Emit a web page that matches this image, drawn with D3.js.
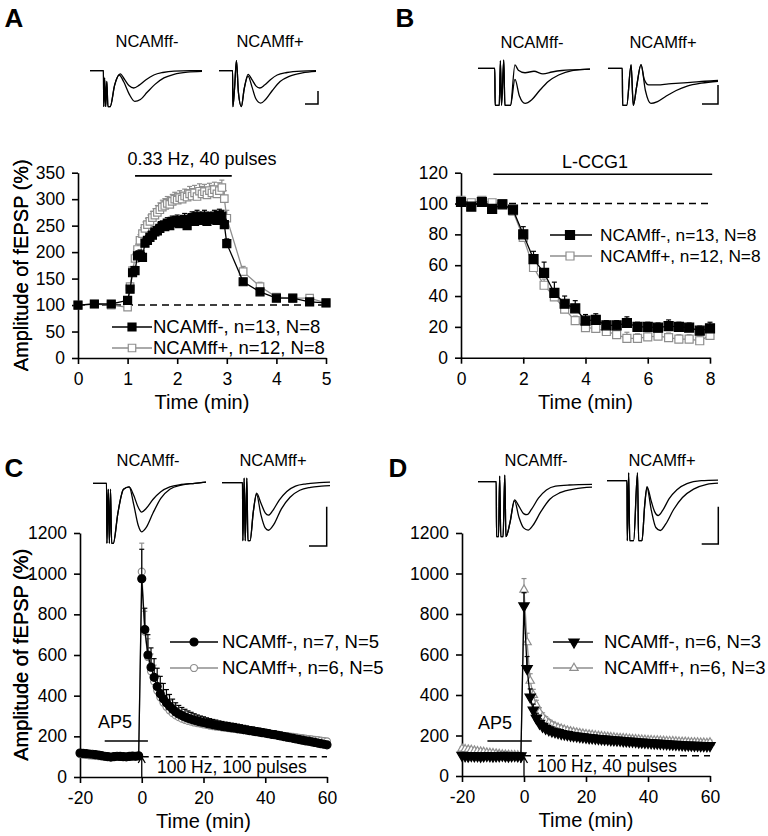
<!DOCTYPE html>
<html>
<head>
<meta charset="utf-8">
<script src="https://cdn.jsdelivr.net/npm/d3@7"></script>
<style>
  body { margin: 0; background: #fff; }
  svg text { font-family: "Liberation Sans", Arial, Helvetica, sans-serif; fill: #000; }
</style>
</head>
<body>
<svg id="fig" width="768" height="836"></svg>
<script>
// ---------- data ----------
// panel A : 0.33 Hz, 40 pulses
var aTime = [0,0.33,0.67,1.0,
  1.05,1.1,1.15,1.2,1.25,1.3,1.35,1.4,1.45,1.5,1.55,1.6,1.65,1.7,1.75,1.8,1.85,1.9,1.95,2.0,
  2.05,2.1,2.15,2.2,2.25,2.3,2.35,2.4,2.45,2.5,2.55,2.6,2.65,2.7,2.75,2.8,2.85,2.9,2.95,3.0,
  3.33,3.67,4.0,4.33,4.67,5.0];
var aMinus = [100,102,102,109,
  130,161,165,193,195,190,217,222,228,232,238,240,245,250,248,255,250,258,255,260,
  254,258,262,250,260,265,258,268,260,262,268,258,265,262,268,260,270,268,252,216,
  144,125,113,113,106,104];
var aMinusErr = [3,3,3,4,
  6,8,8,8,9,9,9,9,10,10,10,10,10,9,10,10,10,10,10,10,
  10,10,11,10,10,11,10,11,10,10,11,10,10,11,11,10,11,11,10,9,
  6,5,4,3,3,3];
var aPlus = [100,102,100,96,
  135,165,188,205,222,235,245,252,258,265,270,275,280,285,288,292,290,296,300,298,
  303,300,306,304,310,306,312,305,315,310,314,308,316,312,318,310,316,322,301,264,
  163,135,115,113,113,104];
var aPlusErr = [3,3,3,4,
  6,8,9,10,11,11,12,12,12,12,12,13,13,13,13,13,13,13,13,13,
  13,13,13,14,14,14,14,14,14,14,14,14,14,14,14,14,15,14,15,15,
  10,8,6,5,4,4];

// panel B : L-CCG1
var bTime = [0,0.33,0.67,1,1.33,1.67,2,2.33,2.67,3,3.33,3.67,4,4.33,4.67,5,5.33,5.67,6,6.33,6.67,7,7.33,7.67,8];
var bMinus = [101,98,101,96.5,99.5,96,80,64,55,42,35,32,24,24.5,21,21,22.5,20,20,19.5,20.5,20,19.5,17.5,19];
var bMinusErr = [2,2,2,2,2,2,5,5,7,7,5,5,4,4,3,3,4,3,3,3,4,3,3,3,4];
var bPlus = [102,100.5,102,100.5,100,95,78,58.5,47,39.5,31.5,24,19.5,19,17,15,12.5,12.5,13.5,14,13,12,12,11,14.5];
var bPlusErr = [2,2,2,2,2,2,4,4,4,4,3,3,3,3,3,4,4,3,3,3,3,3,3,3,3];

// panels C and D share the time base (min)
var cdTime = [-20,-19,-18,-17,-16,-15,-14,-13,-12,-11,-10,-9,-8,-7,-6,-5,-4,-3,-2,-1,
  0,1,2,3,4,5,6,7,8,9,10,11,12,13,14,15,16,17,18,19,20,
  21,22,23,24,25,26,27,28,29,30,31,32,33,34,35,36,37,38,39,40,
  41,42,43,44,45,46,47,48,49,50,51,52,53,54,55,56,57,58,59,60];

// panel C : 100 Hz, 100 pulses
var cMinus = [118,116,115,113,112,110,108,105,102,100,98,100,102,101,100,99,101,103,102,104,
  975,725,600,540,490,445,410,385,365,348,333,
  320,310,302,295,289,284,279,275,271,268,
  264,261,258,255,252,249,247,245,243,241,
  238,236,233,231,228,226,223,221,218,216,
  213,210,208,205,202,199,196,193,190,187,
  184,181,178,176,173,170,167,164,161,158];
var cMinusErr = [10,9,9,8,8,8,8,7,7,7,7,7,7,7,7,7,7,8,8,8,
  145,105,100,95,92,90,85,75,65,58,50,
  45,42,40,38,36,34,32,30,29,28,
  27,26,25,25,24,24,23,23,22,22,
  22,21,21,20,20,20,19,19,19,18,
  18,18,17,17,17,16,16,16,16,15,
  15,15,15,14,14,14,14,13,13,13];
var cPlus = [112,110,108,106,105,104,103,101,100,99,98,99,100,100,99,100,102,101,100,102,
  1010,715,590,520,470,425,392,366,345,328,314,
  303,294,287,281,276,272,268,265,262,259,
  256,253,250,248,246,244,242,240,238,236,
  234,232,230,228,226,224,222,220,218,216,
  214,212,210,208,205,203,201,199,197,195,
  193,191,189,187,185,183,181,179,177,175];
var cPlusErr = [8,8,8,8,8,8,8,8,8,8,8,8,8,8,8,8,8,8,8,8,
  140,100,90,85,80,75,70,62,55,48,42,
  38,35,32,30,28,27,26,25,24,23,
  22,22,21,21,20,20,20,19,19,19,
  18,18,18,18,18,17,17,17,17,17,
  16,16,16,16,16,15,15,15,15,15,
  15,14,14,14,14,14,14,14,14,14];

// panel D : 100 Hz, 40 pulses
var dMinus = [102,100,98,101,99,100,97,99,101,100,98,99,100,102,99,98,100,101,99,100,
  840,530,390,325,285,260,245,235,228,222,218,
  214,210,207,204,201,199,197,195,193,191,
  189,188,186,185,183,182,181,179,178,177,
  176,174,173,172,171,170,168,167,166,165,
  164,163,162,161,160,159,158,157,156,155,
  154,153,153,152,151,151,150,150,149,150];
var dMinusErr = [6,6,6,6,6,6,6,6,6,6,6,6,6,6,6,6,6,6,6,6,
  65,60,40,30,25,22,20,18,17,16,16,
  15,15,15,15,14,14,14,14,14,14,
  14,14,13,13,13,13,13,13,13,13,
  13,13,13,12,12,12,12,12,12,12,
  12,12,12,12,12,12,12,12,12,12,
  12,12,12,12,12,12,12,12,12,12];
var dPlus = [135,132,130,128,125,122,120,118,115,113,112,110,108,106,105,104,103,102,101,100,
  920,660,470,400,350,315,292,275,262,252,245,
  238,233,228,224,220,217,214,211,208,206,
  204,202,200,198,196,194,193,191,190,188,
  187,186,185,183,182,181,180,179,178,177,
  176,175,175,174,173,172,171,171,170,169,
  168,168,167,166,166,165,164,164,163,165];
var dPlusErr = [8,8,8,8,8,8,8,8,8,8,8,8,8,8,8,8,8,8,8,8,
  55,45,35,28,24,22,20,18,17,16,15,
  15,15,14,14,14,14,14,14,14,14,
  13,13,13,13,13,13,13,13,13,13,
  13,13,13,13,13,12,12,12,12,12,
  12,12,12,12,12,12,12,12,12,12,
  12,12,12,12,12,12,12,12,12,12];

// legends
var legA = ["NCAMff-, n=13, N=8", "NCAMff+, n=12, N=8"];
var legB = ["NCAMff-, n=13, N=8", "NCAMff+, n=12, N=8"];
var legC = ["NCAMff-, n=7, N=5", "NCAMff+, n=6, N=5"];
var legD = ["NCAMff-, n=6, N=3", "NCAMff+, n=6, N=3"];

// example fEPSP traces: [time (a.u. 0-100), voltage (a.u., 0 = baseline, -1 = full depth)]
var trAminus1 = [[0,0],[12,0],[12.3,-1],[13,-0.2],[14,-1],[15,-0.3],[16,-1],[18,-1],[22,-0.4],[27,-0.09],[31,-0.25],[35,-0.42],[39,-0.48],[44,-0.4],[50,-0.25],[57,-0.12],[65,-0.05],[75,-0.01],[90,0],[100,0]];
var trAminus2 = [[0,0],[12,0],[12.3,-1],[13,-0.2],[14,-1],[15,-0.3],[16,-1],[18,-1],[22,-0.4],[26,-0.12],[30,-0.3],[35,-0.65],[40,-0.85],[45,-0.8],[51,-0.6],[58,-0.38],[66,-0.2],[75,-0.1],[87,-0.04],[100,-0.02]];
var trAplus1 = [[0,0],[14,0],[14.3,-1],[16,-0.5],[18,0.28],[20,-0.6],[23,-1],[26,-0.5],[30,-0.1],[34,-0.25],[38,-0.42],[42,-0.48],[47,-0.4],[53,-0.25],[60,-0.12],[70,-0.05],[85,-0.01],[100,0]];
var trAplus2 = [[0,0],[14,0],[14.3,-1],[16,-0.5],[18,0.28],[20,-0.6],[23,-1],[26,-0.5],[30,-0.15],[34,-0.45],[38,-0.78],[43,-0.9],[48,-0.8],[55,-0.55],[63,-0.3],[73,-0.15],[86,-0.06],[100,-0.02]];
var trBminus1 = [[0,0],[15,0],[15.3,-1],[19,-1],[20,0.2],[21,-1],[23,0.22],[24,-1],[29,-1],[33,0.09],[36,-0.05],[42,-0.12],[50,-0.08],[58,-0.15],[66,-0.1],[75,-0.06],[85,-0.04],[100,-0.02]];
var trBminus2 = [[0,0],[15,0],[15.3,-1],[19,-1],[20,0.2],[21,-1],[23,0.22],[24,-1],[29,-1],[33,-0.3],[37,-0.75],[42,-0.95],[48,-0.85],[55,-0.6],[63,-0.35],[72,-0.18],[84,-0.06],[100,-0.02]];
var trBplus1 = [[0,0],[13,0],[13.3,-1],[17,-1],[21,0.09],[23,-1],[26,-0.5],[30,0.1],[33,-0.3],[37,-0.45],[45,-0.45],[55,-0.42],[65,-0.4],[75,-0.38],[88,-0.35],[100,-0.33]];
var trBplus2 = [[0,0],[13,0],[13.3,-1],[17,-1],[21,0.09],[23,-1],[26,-0.5],[30,0.1],[34,-0.6],[39,-0.95],[45,-0.9],[53,-0.75],[62,-0.6],[72,-0.48],[85,-0.4],[100,-0.35]];
var trCminus1 = [[0,0],[12,0],[12.3,-1],[13.5,-0.1],[14.5,-1],[15.5,-0.1],[16.5,-1],[18,-1],[22,-0.5],[27,-0.1],[32,-0.06],[36,-0.2],[40,-0.4],[43,-0.48],[47,-0.42],[53,-0.27],[60,-0.14],[68,-0.06],[78,-0.02],[90,0],[100,0.02]];
var trCminus2 = [[0,0],[12,0],[12.3,-1],[13.5,-0.1],[14.5,-1],[15.5,-0.1],[16.5,-1],[18,-1],[22,-0.5],[27,-0.1],[32,-0.06],[36,-0.35],[40,-0.7],[43,-0.81],[47,-0.74],[53,-0.5],[60,-0.25],[68,-0.1],[78,-0.03],[90,0],[100,0.02]];
var trCplus1 = [[0,0],[19,0],[19.3,-1],[20.5,0.08],[21.5,-1],[23,0.08],[24,-1],[26,-1],[29,-0.5],[32,-0.18],[36,-0.35],[40,-0.52],[43,-0.56],[47,-0.48],[53,-0.3],[60,-0.15],[68,-0.06],[78,-0.02],[90,0],[100,0.01]];
var trCplus2 = [[0,0],[19,0],[19.3,-1],[20.5,0.08],[21.5,-1],[23,0.08],[24,-1],[26,-1],[29,-0.5],[32,-0.2],[36,-0.55],[40,-0.78],[43,-0.82],[48,-0.72],[55,-0.45],[63,-0.25],[72,-0.13],[82,-0.08],[92,-0.06],[100,-0.05]];
var trDminus1 = [[0,0],[16,0],[16.3,-1],[18,-1],[19,0.1],[20,-1],[22,-1],[23.5,0.12],[24.5,-1],[28,-0.75],[32,-0.33],[36,-0.45],[40,-0.58],[43,-0.6],[47,-0.5],[53,-0.3],[60,-0.15],[68,-0.08],[80,-0.06],[100,-0.05]];
var trDminus2 = [[0,0],[16,0],[16.3,-1],[18,-1],[19,0.1],[20,-1],[22,-1],[23.5,0.12],[24.5,-1],[28,-0.75],[32,-0.35],[36,-0.65],[40,-0.84],[44,-0.88],[48,-0.8],[55,-0.55],[63,-0.32],[72,-0.2],[85,-0.13],[100,-0.1]];
var trDplus1 = [[0,0],[18,0],[18.3,-1],[19.5,0.13],[20.5,-1],[24,-1],[27.5,0.13],[28.5,-1],[31.5,-1],[34,-0.4],[36,-0.1],[40,-0.35],[43,-0.52],[46,-0.58],[50,-0.5],[56,-0.3],[63,-0.15],[72,-0.05],[85,0],[100,0.01]];
var trDplus2 = [[0,0],[18,0],[18.3,-1],[19.5,0.13],[20.5,-1],[24,-1],[27.5,0.13],[28.5,-1],[31.5,-1],[34,-0.4],[36,-0.12],[40,-0.5],[44,-0.78],[48,-0.83],[53,-0.72],[60,-0.48],[68,-0.28],[78,-0.14],[90,-0.06],[100,-0.04]];

// ---------- drawing ----------
var svg = d3.select("#fig");
var GRAY = "#8e8e8e";
var plain = function(d) { return String(d); };   // keeps "-20" and "1200" as printed

function makePanel(xDom, xRng, yDom, yRng, xTicks, yTicks) {
  var x = d3.scaleLinear().domain(xDom).range(xRng);
  var y = d3.scaleLinear().domain(yDom).range(yRng);
  var g = svg.append("g");
  var ax = g.append("g").attr("transform", "translate(0," + yRng[0] + ")")
    .call(d3.axisBottom(x).tickValues(xTicks).tickFormat(plain).tickSize(6).tickSizeOuter(0).tickPadding(9));
  var ay = g.append("g").attr("transform", "translate(" + xRng[0] + ",0)")
    .call(d3.axisLeft(y).tickValues(yTicks).tickFormat(plain).tickSize(6).tickSizeOuter(0).tickPadding(7));
  [ax, ay].forEach(function(a) {
    a.select(".domain").attr("stroke", "#000").attr("stroke-width", 1.6);
    a.selectAll(".tick line").attr("stroke", "#000").attr("stroke-width", 1.6);
    a.selectAll(".tick text").attr("font-size", 17.5).attr("font-family", null);
  });
  g.append("text")
    .attr("x", (xRng[0] + xRng[1]) / 2).attr("y", yRng[0] + 51)
    .attr("text-anchor", "middle").attr("font-size", 20).text("Time (min)");
  g.append("text")
    .attr("transform", "translate(21," + (yRng[0] + yRng[1]) / 2 + ") rotate(-90)")
    .attr("text-anchor", "middle").attr("dy", "0.35em").attr("font-size", 20)
    .text("Amplitude of fEPSP (%)");
  return { x: x, y: y, g: g };
}

function dashed(p, x0, x1, v) {
  p.g.append("line").attr("x1", p.x(x0)).attr("x2", p.x(x1))
    .attr("y1", p.y(v)).attr("y2", p.y(v))
    .attr("stroke", "#000").attr("stroke-width", 1.5).attr("stroke-dasharray", "7,5");
}

function symbolFor(kind) {
  if (kind === "square") return d3.symbolSquare;
  if (kind === "circle") return d3.symbolCircle;
  return d3.symbolTriangle;
}

function series(p, xs, ys, es, o) {
  var line = d3.line().x(function(d, i) { return p.x(xs[i]); }).y(function(d) { return p.y(d); });
  p.g.append("path").datum(ys).attr("d", line)
    .attr("fill", "none").attr("stroke", o.color).attr("stroke-width", 1.3);
  var eb = p.g.append("g").attr("stroke", o.color).attr("stroke-width", 1.2);
  ys.forEach(function(v, i) {
    var cx = p.x(xs[i]), top = p.y(v + es[i]);
    eb.append("line").attr("x1", cx).attr("x2", cx).attr("y1", p.y(v)).attr("y2", top);
    eb.append("line").attr("x1", cx - 2.5).attr("x2", cx + 2.5).attr("y1", top).attr("y2", top);
  });
  var sym = d3.symbol().type(symbolFor(o.shape)).size(o.size);
  p.g.append("g").selectAll("path").data(ys).enter().append("path")
    .attr("d", sym)
    .attr("transform", function(d, i) {
      return "translate(" + p.x(xs[i]) + "," + p.y(d) + ")" + (o.down ? " rotate(180)" : "");
    })
    .attr("fill", o.fill).attr("stroke", o.color).attr("stroke-width", 1.2);
}

function legend(items, lx0, lx1, mx, tx, ys, fs) {
  items.forEach(function(it, i) {
    var g = svg.append("g");
    g.append("line").attr("x1", lx0).attr("x2", lx1).attr("y1", ys[i]).attr("y2", ys[i])
      .attr("stroke", it.color).attr("stroke-width", 1.3);
    g.append("path").attr("d", d3.symbol().type(symbolFor(it.shape)).size(it.size))
      .attr("transform", "translate(" + mx + "," + ys[i] + ")" + (it.down ? " rotate(180)" : ""))
      .attr("fill", it.fill).attr("stroke", it.color).attr("stroke-width", 1.2);
    g.append("text").attr("x", tx).attr("y", ys[i]).attr("dy", "0.35em")
      .attr("font-size", fs).text(it.label);
  });
}

function bar(p, t0, t1, v) {
  p.g.append("line").attr("x1", p.x(t0)).attr("x2", p.x(t1)).attr("y1", p.y(v)).attr("y2", p.y(v))
    .attr("stroke", "#000").attr("stroke-width", 1.6);
}

function label(x, y, txt, size, anchor, weight) {
  svg.append("text").attr("x", x).attr("y", y).attr("dy", "0.35em")
    .attr("text-anchor", anchor || "middle").attr("font-size", size)
    .attr("font-weight", weight || "normal").text(txt);
}

function trace(data, x0, x1, base, depth) {
  var tx = d3.scaleLinear().domain([0, 100]).range([x0, x1]);
  var ty = d3.scaleLinear().domain([0, -1]).range([base, base + depth]);
  svg.append("path").datum(data)
    .attr("d", d3.line().x(function(d) { return tx(d[0]); }).y(function(d) { return ty(d[1]); }).curve(d3.curveMonotoneX))
    .attr("fill", "none").attr("stroke", "#000").attr("stroke-width", 1.3);
}

function scaleBar(xv, yTop, yBot, xLeft) {
  svg.append("path").attr("d", "M" + xv + "," + yTop + "V" + yBot + "H" + xLeft)
    .attr("fill", "none").attr("stroke", "#000").attr("stroke-width", 1.5);
}

function stimArrow(p, yTip) {
  var x = p.x(0), yb = p.y(0);
  p.g.append("path").attr("d", "M" + x + "," + yb + "V" + yTip + "M" + (x - 3.5) + "," + (yTip + 6) + "L" + x + "," + yTip + "L" + (x + 3.5) + "," + (yTip + 6))
    .attr("fill", "none").attr("stroke", "#000").attr("stroke-width", 1.3);
}

var black = { color: "#000", fill: "#000" };
var grayOpen = { color: GRAY, fill: "#fff" };
function st(base, extra) { return Object.assign({}, base, extra); }

// ---- Panel A ----
var pA = makePanel([0, 5], [78, 326], [0, 350], [358, 172.7], [0,1,2,3,4,5], [0,50,100,150,200,250,300,350]);
dashed(pA, 0, 5, 100);
bar(pA, 1.15, 3.1, 344);
label(202, 159, "0.33 Hz, 40 pulses", 18);
series(pA, aTime, aPlus, aPlusErr, st(grayOpen, { shape: "square", size: 56 }));
series(pA, aTime, aMinus, aMinusErr, st(black, { shape: "square", size: 64 }));
legend([st(black, { shape: "square", size: 64, label: legA[0] }), st(grayOpen, { shape: "square", size: 56, label: legA[1] })],
  112, 152, 132, 153, [327, 348], 18.5);

// ---- Panel B ----
var pB = makePanel([0, 8], [461, 710], [0, 120], [357.7, 172.7], [0,2,4,6,8], [0,20,40,60,80,100,120]);
dashed(pB, 0, 8, 100);
bar(pB, 1.04, 8.07, 119);
label(595, 162, "L-CCG1", 18);
series(pB, bTime, bPlus, bPlusErr, st(grayOpen, { shape: "square", size: 64 }));
series(pB, bTime, bMinus, bMinusErr, st(black, { shape: "square", size: 81 }));
legend([st(black, { shape: "square", size: 81, label: legB[0] }), st(grayOpen, { shape: "square", size: 64, label: legB[1] })],
  550, 592, 570, 600, [235, 256], 17.3);

// ---- Panel C ----
var pC = makePanel([-20, 60], [80, 327], [0, 1200], [777, 533], [-20,0,20,40,60], [0,200,400,600,800,1000,1200]);
dashed(pC, 0, 60, 100);
series(pC, cdTime, cPlus, cPlusErr, st(grayOpen, { shape: "circle", size: 38 }));
series(pC, cdTime, cMinus, cMinusErr, st(black, { shape: "circle", size: 50 }));
bar(pC, -12, 2, 177);
label(115, 722, "AP5", 18);
stimArrow(pC, 757);
label(157, 767, "100 Hz, 100 pulses", 17.5, "start");
legend([st(black, { shape: "circle", size: 50, label: legC[0] }), st(grayOpen, { shape: "circle", size: 38, label: legC[1] })],
  170, 218, 194, 222, [642, 668], 18.5);

// ---- Panel D ----
var pD = makePanel([-20, 60], [462, 710], [0, 1200], [776, 533], [-20,0,20,40,60], [0,200,400,600,800,1000,1200]);
dashed(pD, 0, 60, 100);
series(pD, cdTime, dPlus, dPlusErr, st(grayOpen, { shape: "triangle", size: 30 }));
series(pD, cdTime, dMinus, dMinusErr, st(black, { shape: "triangle", size: 46, down: true }));
bar(pD, -11.8, 2.5, 173);
label(495, 723, "AP5", 18);
stimArrow(pD, 757);
label(537, 766, "100 Hz, 40 pulses", 17.5, "start");
legend([st(black, { shape: "triangle", size: 46, down: true, label: legD[0] }), st(grayOpen, { shape: "triangle", size: 30, label: legD[1] })],
  553, 593, 574, 604, [642, 668], 18.5);

// ---- panel letters ----
label(14, 18, "A", 26, "middle", "bold");
label(405, 18, "B", 26, "middle", "bold");
label(14, 468, "C", 26, "middle", "bold");
label(398, 468, "D", 26, "middle", "bold");

// ---- inset headers ----
label(147, 41, "NCAMff-", 16.5);
label(270, 41, "NCAMff+", 16.5);
label(532, 42, "NCAMff-", 16.5);
label(663, 42, "NCAMff+", 16.5);
label(148, 460, "NCAMff-", 16.5);
label(273, 460, "NCAMff+", 16.5);
label(536, 460, "NCAMff-", 16.5);
label(662, 460, "NCAMff+", 16.5);

// ---- example traces ----
trace(trAminus1, 90, 202, 70.7, 36); trace(trAminus2, 90, 202, 70.7, 36);
trace(trAplus1, 219, 316, 70.7, 36); trace(trAplus2, 219, 316, 70.7, 36);
scaleBar(318, 91, 104, 305);
trace(trBminus1, 478, 590, 68.3, 37); trace(trBminus2, 478, 590, 68.3, 37);
trace(trBplus1, 608, 718, 68.3, 37); trace(trBplus2, 608, 718, 68.3, 37);
scaleBar(718, 85, 104, 702);
trace(trCminus1, 93, 206, 483.3, 60); trace(trCminus2, 93, 206, 483.3, 60);
trace(trCplus1, 222, 330, 482.7, 58); trace(trCplus2, 222, 330, 482.7, 58);
scaleBar(326.7, 506.7, 546, 309);
trace(trDminus1, 478, 592, 481.7, 55); trace(trDminus2, 478, 592, 481.7, 55);
trace(trDplus1, 607, 718, 480.7, 60); trace(trDplus2, 607, 718, 480.7, 60);
scaleBar(718.3, 506.7, 544, 701.7);
</script>
</body>
</html>
